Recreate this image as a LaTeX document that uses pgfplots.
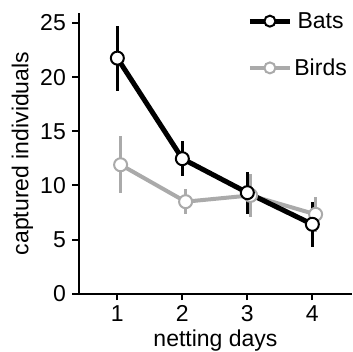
\documentclass[border=0pt]{standalone}
\usepackage{fontspec}
\setmainfont{Liberation Sans}
\usepackage{pgfplots}
\pgfplotsset{compat=1.18}
\definecolor{birdgray}{RGB}{170,170,170}
\begin{document}
\begin{tikzpicture}
\path[use as bounding box] (-79pt,-58.3pt) rectangle (273pt,293.7pt);
\begin{axis}[
  at={(0,0)}, anchor=south west,
  scale only axis, width=273pt, height=280.4pt,
  xmin=0.41, xmax=4.61, ymin=0, ymax=25.9,
  axis x line*=bottom, axis y line*=left,
  axis line style={line width=2pt,-},
  xtick={1,2,3,4}, ytick={0,5,10,15,20,25},
  tick align=outside, major tick length=6.5pt,
  tick style={line width=2pt, black},
  minor tick num=0,
  /pgf/number format/assume math mode=true,
  tick label style={font=\fontsize{23}{25}\selectfont},
  xticklabel style={anchor=base, yshift=-20.8pt},
  yticklabel style={anchor=east, inner sep=0pt, xshift=-6.5pt},
  xlabel={netting days}, ylabel={captured individuals},
  every axis x label/.style={at={(axis description cs:0.5,0)}, anchor=base, yshift=-52.3pt, font=\fontsize{23}{25}\selectfont},
  every axis y label/.style={at={(axis description cs:0,0.5)}, rotate=90, anchor=base, yshift=50.5pt, font=\fontsize{23}{25}\selectfont},
  legend style={draw=none, fill=none, at={(1,1)}, anchor=north east, yshift=5pt,
    font=\fontsize{23}{25}\selectfont, row sep=25pt},
  reverse legend,
  legend image code/.code={\draw[mark repeat=2,mark phase=2,#1, mark size=5.5pt] plot coordinates {(0pt,0pt) (20pt,0pt) (40pt,0pt)};},
  clip=false,
]
\addplot[birdgray, line width=4pt, mark=*, mark size=6.5pt,
  mark options={fill=white, draw=birdgray, line width=2pt},
  error bars/.cd, y dir=both, y explicit, error mark=none,
  error bar style={line width=3pt, birdgray}]
coordinates {
(1.05,11.91) +- (0,2.65)
(2.05,8.5) +- (0,1.15)
(3.05,9.08) +- (0,2.0)
(4.05,7.33) +- (0,1.6)
};
\addlegendentry{Birds}
\addplot[black, line width=5pt, mark=*, mark size=6.5pt,
  mark options={fill=white, draw=black, line width=2pt},
  error bars/.cd, y dir=both, y explicit, error mark=none,
  error bar style={line width=3pt, black}]
coordinates {
(1,21.76) +- (0,3.0)
(2,12.47) +- (0,1.6)
(3,9.33) +- (0,1.93)
(4,6.41) +- (0,2.08)
};
\addlegendentry{Bats}
\end{axis}
\end{tikzpicture}
\end{document}
